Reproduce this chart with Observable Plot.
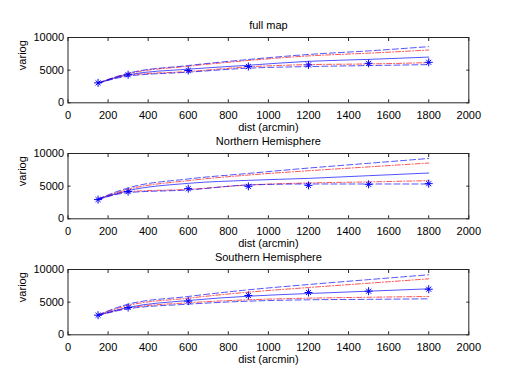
<!DOCTYPE html>
<html><head><meta charset="utf-8">
<script src="https://cdn.jsdelivr.net/npm/d3@7"></script>
<script src="https://cdn.jsdelivr.net/npm/@observablehq/plot@0.6"></script>
<style>
body{margin:0;background:#fff;}
#wrap{position:relative;width:518px;height:388px;background:#fff;}
.panel{position:absolute;left:0;}
</style>
</head><body><div id="wrap"></div>
<script>
const dist = [150, 300, 600, 900, 1200, 1500, 1800];
const xTicks = [0, 200, 400, 600, 800, 1000, 1200, 1400, 1600, 1800, 2000];
const yTicks = [0, 5000, 10000];
const xLabel = "dist (arcmin)";
const yLabel = "variog";
const titles = ["full map", "Northern Hemisphere", "Southern Hemisphere"];

// full map
const fullStars  = [3050, 4290, 4950, 5560, 5800, 6040, 6200];
const fullModel  = [3000, 4300, 5150, 5750, 6350, 6650, 7000];
const fullBlueUp = [3050, 4530, 5710, 6630, 7400, 7950, 8600];
const fullBlueLo = [2980, 4080, 4690, 5300, 5550, 5700, 5850];
const fullRedUp  = [3030, 4450, 5600, 6480, 7180, 7600, 8080];
const fullRedLo  = [2990, 4230, 4790, 5500, 5850, 5950, 6150];

// Northern Hemisphere
const northStars  = [2940, 4160, 4620, 4970, 5120, 5280, 5380];
const northModel  = [3000, 4310, 5430, 5890, 6190, 6600, 7010];
const northBlueUp = [3050, 4730, 6100, 6950, 7770, 8500, 9240];
const northBlueLo = [2950, 4010, 4420, 5180, 5330, 5330, 5330];
const northRedUp  = [3030, 4520, 5840, 6700, 7360, 7950, 8540];
const northRedLo  = [2970, 4150, 4510, 5180, 5490, 5650, 5840];

// Southern Hemisphere
const southStars  = [3000, 4180, 5150, 6020, 6480, 6680, 6980];
const southModel  = [3000, 4200, 5250, 5910, 6320, 6680, 7040];
const southBlueUp = [3050, 4690, 5870, 6890, 7700, 8450, 9190];
const southBlueLo = [2970, 3980, 4690, 5150, 5360, 5430, 5510];
const southRedUp  = [3030, 4500, 5610, 6530, 7240, 7900, 8570];
const southRedLo  = [2980, 4090, 4900, 5360, 5610, 5750, 5870];

const panels = [
  [fullStars, fullModel, fullBlueUp, fullBlueLo, fullRedUp, fullRedLo],
  [northStars, northModel, northBlueUp, northBlueLo, northRedUp, northRedLo],
  [southStars, southModel, southBlueUp, southBlueLo, southRedUp, southRedLo]
];

const rows = arr => dist.map((d, i) => ({x: d, y: arr[i]}));
const BLUE = "#0000ff", RED = "#ff0000";
const curve = "monotone-x";
const fmt = d => String(d);

function panel(title, [stars, model, bUp, bLo, rUp, rLo]) {
  const line = (arr, stroke, dash) => Plot.line(rows(arr), {x: "x", y: "y", stroke, strokeWidth: 0.8, strokeOpacity: 0.85, strokeDasharray: dash, curve});
  return Plot.plot({
    width: 518, height: 140,
    marginLeft: 67.5, marginRight: 49.7, marginTop: 37, marginBottom: 37.7,
    style: {fontFamily: "'Liberation Sans', Arial, sans-serif", fontSize: "11px", background: "transparent", overflow: "visible", color: "#000"},
    x: {domain: [0, 2000], label: null},
    y: {domain: [0, 10000], label: null},
    marks: [
      line(rUp, RED, "5,2,1,2"),
      line(rLo, RED, "5,2,1,2"),
      line(bUp, BLUE, "6,3"),
      line(bLo, BLUE, "6,3"),
      line(model, BLUE, null),
      Plot.dot(rows(stars), {x: "x", y: "y", symbol: "plus", r: 2.7, stroke: BLUE, strokeWidth: 1}),
      Plot.dot(rows(stars), {x: "x", y: "y", symbol: "times", r: 2.4, stroke: BLUE, strokeWidth: 1}),
      Plot.frame({stroke: "#262626"}),
      Plot.axisX(xTicks, {anchor: "bottom", tickSize: 0, tickPadding: 8, tickFormat: fmt, label: null, stroke: "none"}),
      Plot.axisX(xTicks, {anchor: "bottom", tickSize: -3, tickFormat: () => "", label: null, stroke: "#262626"}),
      Plot.axisX(xTicks, {anchor: "top", tickSize: -3, tickFormat: () => "", label: null, stroke: "#262626"}),
      Plot.axisY(yTicks, {anchor: "left", tickSize: 0, tickPadding: 4, tickFormat: fmt, label: null, stroke: "none"}),
      Plot.axisY(yTicks, {anchor: "left", tickSize: -3, tickFormat: () => "", label: null, stroke: "#262626"}),
      Plot.axisY(yTicks, {anchor: "right", tickSize: -3, tickFormat: () => "", label: null, stroke: "#262626"}),
      Plot.text([title], {frameAnchor: "top", lineAnchor: "middle", dy: -12, text: d => d, fill: "#000"}),
      Plot.text([xLabel], {frameAnchor: "bottom", lineAnchor: "middle", dy: 24.4, text: d => d, fill: "#000"}),
      Plot.text([yLabel], {frameAnchor: "left", lineAnchor: "middle", dx: -46, rotate: -90, text: d => d, fill: "#000"})
    ]
  });
}

const wrap = document.getElementById("wrap");
titles.forEach((t, i) => {
  const div = document.createElement("div");
  div.className = "panel";
  div.style.top = (i * 116) + "px";
  div.appendChild(panel(t, panels[i]));
  wrap.appendChild(div);
});
</script>
</body></html>
